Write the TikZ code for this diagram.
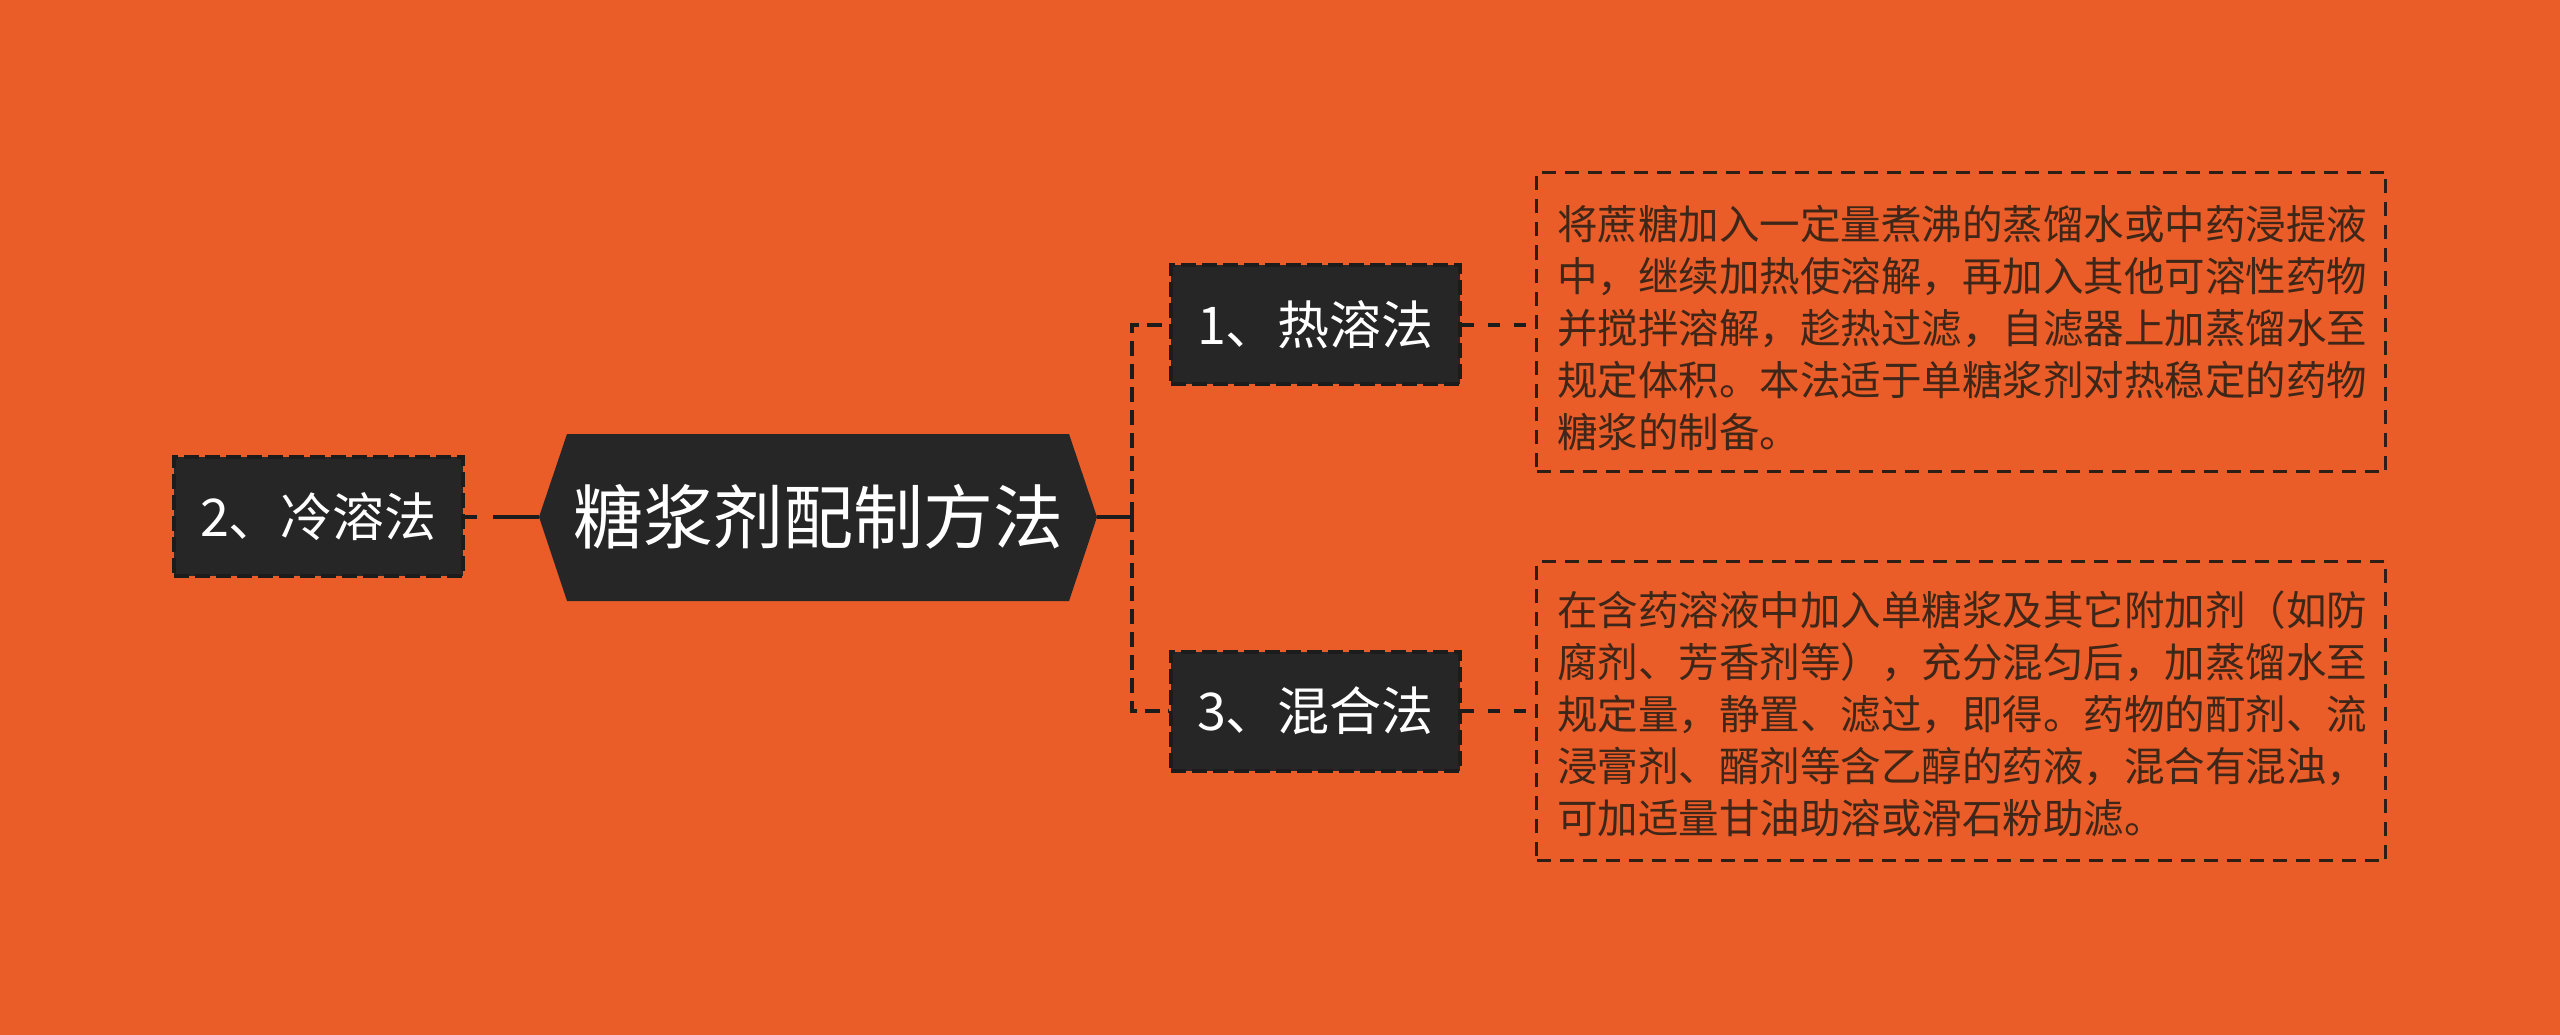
\documentclass[tikz,border=0pt]{standalone}
\usepackage{fontspec}
\newfontfamily\cjk{Noto Sans CJK SC}
\definecolor{bgc}{RGB}{234,92,40}
\definecolor{nodec}{RGB}{38,38,38}
\definecolor{edgec}{RGB}{28,28,28}
\definecolor{txtc}{RGB}{62,38,24}
\definecolor{boxc}{RGB}{45,30,22}
\begin{document}
\begin{tikzpicture}[x=1pt,y=-1pt,
  topic/.style={fill=nodec, draw=edgec, line width=4pt, dash pattern=on 15pt off 6pt, text=white,
    font=\cjk\fontsize{52}{62}\selectfont, minimum width=289pt, minimum height=119pt, inner sep=0pt},
  rootnode/.style={text=white, font=\cjk\fontsize{70}{84}\selectfont, minimum width=502pt, minimum height=167pt, inner sep=0pt},
  descbox/.style={draw=boxc, line width=3pt, dash pattern=on 14pt off 9pt, minimum width=849pt, minimum height=299pt, inner sep=0pt},
  desctext/.style={text=txtc, font=\cjk\fontsize{40.5}{52}\selectfont, align=left, anchor=north west, inner sep=0pt},
  link/.style={draw=edgec, line width=4pt},
  dlink/.style={link, dash pattern=on 15pt off 8pt}
]
\useasboundingbox (0,0) rectangle (2560,1035);
\fill[bgc] (0,0) rectangle (2560,1035);
% central hexagon
\fill[nodec] (539,517) -- (567,434) -- (1069,434) -- (1097,517) -- (1069,601) -- (567,601) -- cycle;
\node[rootnode] (root) at (818,517) {糖浆剂配制方法};
\coordinate (rootW) at (539,517);
\coordinate (rootE) at (1097,517);
\coordinate (j) at (1132,517);
% boxes
\node[descbox] (b1) at (1961,322) {};
\node[descbox] (b2) at (1961,711) {};
% connectors
\draw[link] (rootE) -- (j);
\draw[dlink] (j) |- (1169,324.5);
\draw[dlink] (j) |- (1169,711);
\draw[link, dash pattern=on 46pt off 16pt] (rootW) -- (465,517);
\draw[link, dash pattern=on 12pt off 14pt] (1462,324.5) -- (1535,324.5);
\draw[link, dash pattern=on 12pt off 14pt] (1462,711) -- (1535,711);
% topic nodes
\node[topic] (n2) at (318.5,516.5) {2、冷溶法};
\node[topic] (n1) at (1315.5,324.5) {1、热溶法};
\node[topic] (n3) at (1315.5,711) {3、混合法};
% texts
\node[desctext] (t1) at (1557,205) {将蔗糖加入一定量煮沸的蒸馏水或中药浸提液\\中，继续加热使溶解，再加入其他可溶性药物\\并搅拌溶解，趁热过滤，自滤器上加蒸馏水至\\规定体积。本法适于单糖浆剂对热稳定的药物\\糖浆的制备。};
\node[desctext] (t2) at (1557,591) {在含药溶液中加入单糖浆及其它附加剂（如防\\腐剂、芳香剂等），充分混匀后，加蒸馏水至\\规定量，静置、滤过，即得。药物的酊剂、流\\浸膏剂、醑剂等含乙醇的药液，混合有混浊，\\可加适量甘油助溶或滑石粉助滤。};
\end{tikzpicture}
\end{document}
